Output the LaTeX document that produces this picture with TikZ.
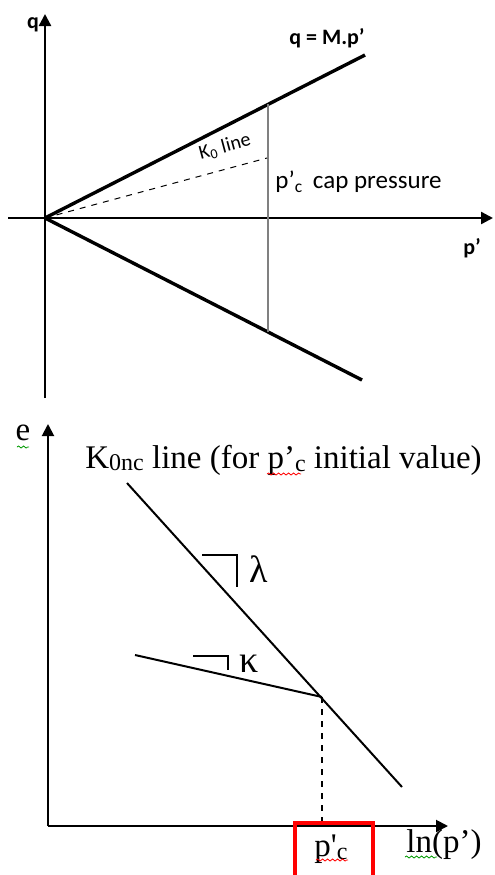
\documentclass[tikz,border=0pt]{standalone}
\usepackage{fontspec}
\setmainfont{Liberation Serif}
\newfontfamily\calibri{Carlito}
\usetikzlibrary{arrows.meta,calc,positioning,decorations.pathmorphing}

\begin{document}
\begin{tikzpicture}[x=0.5pt, y=-0.5pt,
  axis/.style={line width=1.2pt, -{Triangle[length=6pt,width=6pt]}},
  bound/.style={line width=1.7pt},
  curve/.style={line width=1pt},
  sanslab/.style={font=\calibri\fontsize{11}{13}\selectfont\bfseries},
  serlab/.style={font=\fontsize{16.5}{18}\selectfont},
  spell/.style={decorate, decoration={snake, amplitude=0.5pt, segment length=2.5pt}, line width=0.4pt}]
\useasboundingbox (0,0) rectangle (494,875);
% p'-q plane
\coordinate (o1) at (45,218);
\coordinate (qtop) at (45,14);  \coordinate (qbot) at (45,398);
\coordinate (pl) at (8,218);    \coordinate (pr) at (493,218);
\coordinate (mup) at (365,55);  \coordinate (mdn) at (362,380);
\coordinate (cup) at (268,104); \coordinate (cdn) at (268,332);
\coordinate (k0) at (267,158);
\draw[axis] (qbot)--(qtop);
\draw[axis] (pl)--(pr);
\draw[bound] (o1)--(mup);
\draw[bound] (o1)--(mdn);
\draw[gray, line width=1pt] (cup)--(cdn);
\draw[dashed, line width=0.5pt] (o1)--(k0);
\node[sanslab] (qlab) at (33,25) {q};
\node[sanslab] (plab) at (472,248) {p’};
\node[sanslab] (mlab) at (327,38) {q = M.p’};
\node[font=\calibri\fontsize{10}{12}\selectfont, rotate=15] (k0lab) at (225,147) {K\textsubscript{0} line};
\node[font=\calibri\fontsize{12.5}{14}\selectfont, anchor=west, inner sep=0pt] (caplab) at (275,182) {p’\textsubscript{c}\, cap pressure};
% e-ln(p') plane
\coordinate (o2) at (48,826);
\coordinate (etop) at (48,424); \coordinate (lnr) at (448,826);
\coordinate (nc1) at (127,483); \coordinate (nc2) at (402,787);
\coordinate (kap) at (135,655); \coordinate (pc) at (322,697);
\coordinate (pcax) at (322,826);
\draw[axis, line width=1pt] (o2)--(etop);
\draw[axis, line width=1pt] (o2)--(lnr);
\draw[curve] (nc1)--(nc2);
\draw[curve] (kap)--(pc);
\draw[dashed, line width=0.7pt] (pc)--(pcax);
\draw[line width=0.8pt] (202,555) -| (237,587);
\draw[line width=0.8pt] (193,656) -| (228,670);
\node[serlab, font=\fontsize{19}{20}\selectfont] (lam) at (259,569) {λ};
\node[serlab, font=\fontsize{19}{20}\selectfont] (kapp) at (249,664) {κ};
\node[serlab] (elab) at (23,433) {e};
\node[serlab, anchor=west, inner sep=0pt] (nclab) at (85,460) {K\raisebox{-0.15ex}{\fontsize{12}{13}\selectfont 0nc} line (for p’\raisebox{-0.2ex}{\fontsize{12}{13}\selectfont c} initial value)};
\draw[red, line width=2pt] (295,880) |- (373,823) -- (373,880);
\node[serlab] (pclab) at (331,849) {p\textquotesingle\raisebox{-0.2ex}{\fontsize{12}{13}\selectfont c}};
\node[serlab] (lnlab) at (444,845) {ln(p’)};
\draw[spell, green!60!black] (17,447)--(29,447);
\draw[spell, red] (267,474)--(301,474);
\draw[spell, red] (316,860)--(348,860);
\draw[spell, green!60!black] (405,857)--(437,857);
\end{tikzpicture}
\end{document}
